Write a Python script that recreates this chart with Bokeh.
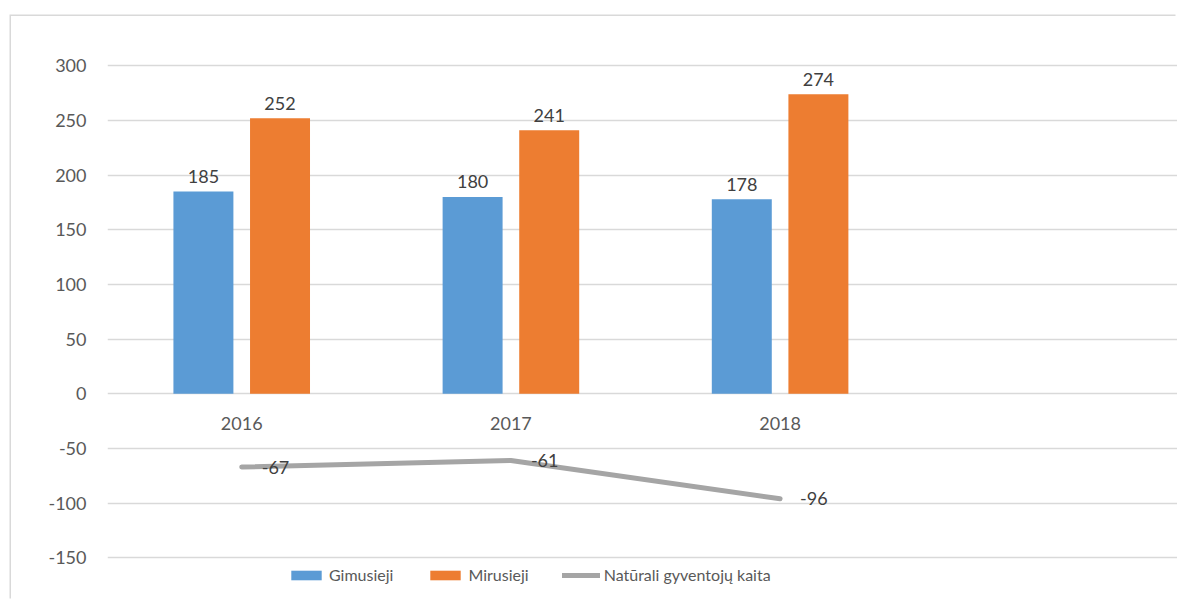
from bokeh.plotting import figure
from bokeh.models import ColumnDataSource, Range1d, FixedTicker, Legend, LegendItem
from bokeh.transform import dodge
from bokeh.core.properties import value
from bokeh.embed import file_html
from bokeh.resources import INLINE

# ---- data ----
years = ["2016", "2017", "2018"]
gimusieji = [185, 180, 178]
mirusieji = [252, 241, 274]
kaita = [-67, -61, -96]
y_ticks = [-150, -100, -50, 0, 50, 100, 150, 200, 250, 300]
y_tick_labels = ["-150", "-100", "-50", "0", "50", "100", "150", "200", "250", "300"]
series_names = ["Gimusieji", "Mirusieji", "Natūrali gyventojų kaita"]

FONT = "Lato"
BLUE = "#5B9BD5"
ORANGE = "#ED7D31"
GRAY = "#A5A5A5"
GRID = "#D9D9D9"
TXT = "#595959"
DLBL = "#404040"

pos = list(range(len(years)))
src = ColumnDataSource(dict(
    x=pos, year=years, g=gimusieji, m=mirusieji, k=kaita,
    g_lbl=[str(v) for v in gimusieji],
    m_lbl=[str(v) for v in mirusieji],
    k_lbl=[str(v) for v in kaita],
    zero=[0] * len(years),
))

p = figure(width=1166, height=584,
           x_range=Range1d(-0.4986, 3.4763), y_range=Range1d(-189.06, 345.09),
           output_backend="svg", toolbar_location=None, x_axis_location=None,
           min_border_left=96, min_border_right=0, min_border_top=0, min_border_bottom=0)
p.margin = (16, 0, 0, 11)
p.styles = {"box-shadow": "-1.5px -1.5px 0px 0px #D9D9D9"}
p.outline_line_color = None
p.background_fill_color = "white"
p.border_fill_color = "white"
for g in p.xgrid:
    g.visible = False

p.yaxis.ticker = FixedTicker(ticks=y_ticks)
p.yaxis.major_label_overrides = dict(zip(y_ticks, y_tick_labels))
p.ygrid.ticker = FixedTicker(ticks=y_ticks)
p.ygrid.grid_line_color = GRID
p.ygrid.grid_line_width = 1.5
p.yaxis.axis_line_color = None
p.yaxis.major_tick_line_color = None
p.yaxis.minor_tick_line_color = None
p.yaxis.major_tick_out = 0
p.yaxis.major_tick_in = 0
p.yaxis.major_label_standoff = 21
p.yaxis.major_label_text_font = FONT
p.yaxis.major_label_text_font_size = "18px"
p.yaxis.major_label_text_color = TXT

OFF = 0.1423
W = 0.2228

r_g = p.vbar(x=dodge("x", -OFF), top="g", bottom=0, width=W, source=src,
             fill_color=BLUE, line_color=None)
r_m = p.vbar(x=dodge("x", OFF), top="m", bottom=0, width=W, source=src,
             fill_color=ORANGE, line_color=None)
r_k = p.line(x="x", y="k", source=src, line_color=GRAY, line_width=5,
             line_cap="round", line_join="round")

common = dict(source=src, text_font=value(FONT), text_font_size="18px")
p.text(x=dodge("x", -OFF), y="g", text="g_lbl", text_align="center",
       text_baseline="alphabetic", y_offset=-15, text_color=DLBL, **common)
p.text(x=dodge("x", OFF), y="m", text="m_lbl", text_align="center",
       text_baseline="alphabetic", y_offset=-15, text_color=DLBL, **common)
p.text(x="x", y="k", text="k_lbl", text_align="left", text_baseline="middle",
       x_offset=20, text_color=DLBL, **common)
p.text(x="x", y="zero", text="year", text_align="center",
       text_baseline="alphabetic", y_offset=30, text_color=TXT, **common)

legend = Legend(items=[LegendItem(label=series_names[0], renderers=[r_g]),
                       LegendItem(label=series_names[1], renderers=[r_m]),
                       LegendItem(label=series_names[2], renderers=[r_k])],
                orientation="horizontal", location=(180, 16),
                glyph_width=38, glyph_height=12, label_standoff=4, spacing=33,
                padding=0, margin=0, border_line_color=None,
                background_fill_alpha=0,
                label_text_font=FONT, label_text_font_size="16px",
                label_text_color=TXT)
p.add_layout(legend)

open("out.html", "w").write(file_html(p, INLINE))
